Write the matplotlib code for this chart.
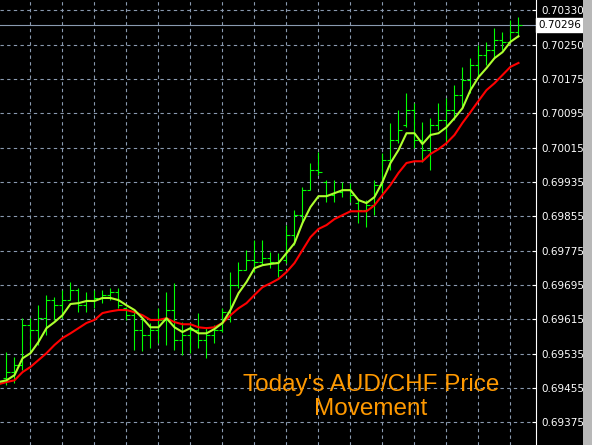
import numpy as np
import matplotlib
matplotlib.use('Agg')
import matplotlib.pyplot as plt
from matplotlib.patches import Rectangle

# OHLC of the bars on screen (AUD/CHF)
opens = [0.69477, 0.69491, 0.69507, 0.69600, 0.69588, 0.69616, 0.69658, 0.69646, 0.69658, 0.69681,
         0.69646, 0.69658, 0.69663, 0.69670, 0.69677, 0.69639, 0.69623, 0.69588, 0.69577, 0.69588,
         0.69612, 0.69635, 0.69565, 0.69577, 0.69588, 0.69565, 0.69577, 0.69588, 0.69630, 0.69693,
         0.69728, 0.69751, 0.69746, 0.69755, 0.69746, 0.69751, 0.69809, 0.69855, 0.69913, 0.69960,
         0.69932, 0.69902, 0.69909, 0.69913, 0.69883, 0.69867, 0.69878, 0.69925, 0.69983, 0.70029,
         0.70064, 0.70099, 0.70029, 0.70006, 0.70064, 0.70076, 0.70099, 0.70134, 0.70168, 0.70203,
         0.70226, 0.70238, 0.70261, 0.70257, 0.70280]
highs = [0.69537, 0.69526, 0.69616, 0.69616, 0.69646, 0.69670, 0.69665, 0.69681, 0.69700, 0.69686,
         0.69677, 0.69681, 0.69681, 0.69686, 0.69686, 0.69642, 0.69630, 0.69619, 0.69605, 0.69639,
         0.69677, 0.69697, 0.69607, 0.69600, 0.69628, 0.69595, 0.69600, 0.69639, 0.69723, 0.69746,
         0.69774, 0.69797, 0.69797, 0.69769, 0.69767, 0.69832, 0.69867, 0.69920, 0.69976, 0.70001,
         0.69936, 0.69936, 0.69932, 0.69929, 0.69890, 0.69890, 0.69936, 0.69999, 0.70069, 0.70099,
         0.70138, 0.70115, 0.70071, 0.70080, 0.70115, 0.70127, 0.70157, 0.70199, 0.70219, 0.70250,
         0.70257, 0.70289, 0.70280, 0.70308, 0.70315]
lows = [0.69461, 0.69465, 0.69496, 0.69542, 0.69554, 0.69577, 0.69612, 0.69616, 0.69658, 0.69630,
        0.69630, 0.69639, 0.69651, 0.69658, 0.69639, 0.69612, 0.69542, 0.69540, 0.69547, 0.69558,
        0.69554, 0.69542, 0.69530, 0.69535, 0.69547, 0.69523, 0.69558, 0.69584, 0.69607, 0.69686,
        0.69728, 0.69723, 0.69739, 0.69732, 0.69711, 0.69744, 0.69786, 0.69837, 0.69913, 0.69948,
        0.69885, 0.69885, 0.69897, 0.69885, 0.69837, 0.69827, 0.69855, 0.69906, 0.69960, 0.70022,
        0.70059, 0.70011, 0.69978, 0.69960, 0.70052, 0.70025, 0.70076, 0.70103, 0.70138, 0.70175,
        0.70203, 0.70219, 0.70238, 0.70254, 0.70268]
closes = [0.69491, 0.69507, 0.69600, 0.69588, 0.69616, 0.69658, 0.69646, 0.69658, 0.69681, 0.69646,
          0.69658, 0.69663, 0.69670, 0.69677, 0.69646, 0.69623, 0.69588, 0.69577, 0.69588, 0.69612,
          0.69635, 0.69565, 0.69577, 0.69588, 0.69565, 0.69577, 0.69588, 0.69630, 0.69693, 0.69728,
          0.69751, 0.69746, 0.69755, 0.69746, 0.69728, 0.69809, 0.69855, 0.69913, 0.69960, 0.69955,
          0.69902, 0.69909, 0.69913, 0.69902, 0.69867, 0.69878, 0.69925, 0.69983, 0.70029, 0.70052,
          0.70099, 0.70029, 0.70006, 0.70064, 0.70076, 0.70099, 0.70134, 0.70168, 0.70203, 0.70226,
          0.70238, 0.70261, 0.70257, 0.70280, 0.70296]

# moving averages, first value belongs to the bar just left of the screen
ma_fast = [0.69468, 0.69472, 0.69484, 0.69523, 0.69535, 0.69561, 0.69593, 0.69607, 0.69623, 0.69649,
           0.69651, 0.69656, 0.69656, 0.69663, 0.69663, 0.69658, 0.69646, 0.69635, 0.69616, 0.69595,
           0.69595, 0.69616, 0.69595, 0.69584, 0.69593, 0.69581, 0.69581, 0.69591, 0.69605, 0.69635,
           0.69674, 0.69700, 0.69732, 0.69739, 0.69742, 0.69744, 0.69767, 0.69790, 0.69837, 0.69874,
           0.69899, 0.69899, 0.69906, 0.69913, 0.69913, 0.69890, 0.69883, 0.69897, 0.69932, 0.69976,
           0.70006, 0.70045, 0.70045, 0.70020, 0.70041, 0.70045, 0.70059, 0.70080, 0.70103, 0.70145,
           0.70175, 0.70196, 0.70219, 0.70233, 0.70257, 0.70270]
ma_slow = [0.69463, 0.69468, 0.69472, 0.69491, 0.69503, 0.69519, 0.69535, 0.69554, 0.69570, 0.69581,
           0.69593, 0.69605, 0.69612, 0.69628, 0.69632, 0.69635, 0.69635, 0.69630, 0.69623, 0.69612,
           0.69612, 0.69616, 0.69607, 0.69602, 0.69602, 0.69595, 0.69593, 0.69595, 0.69605, 0.69623,
           0.69639, 0.69651, 0.69670, 0.69688, 0.69697, 0.69707, 0.69723, 0.69744, 0.69774, 0.69804,
           0.69823, 0.69832, 0.69846, 0.69855, 0.69864, 0.69864, 0.69864, 0.69878, 0.69902, 0.69925,
           0.69953, 0.69976, 0.69980, 0.69980, 0.69997, 0.70008, 0.70022, 0.70041, 0.70069, 0.70094,
           0.70120, 0.70145, 0.70161, 0.70180, 0.70199, 0.70208]

price_labels = ['0.69375', '0.69455', '0.69535', '0.69615', '0.69695', '0.69775', '0.69855',
                '0.69935', '0.70015', '0.70095', '0.70175', '0.70250', '0.70330']
current_price = 0.70296

bars = np.arange(len(closes))
ma_x = np.arange(-1, len(closes))

fig = plt.figure(figsize=(5.92, 4.45), dpi=100, facecolor='black')
ax = fig.add_axes([0, 0, 536 / 592, 1])
ax.set_facecolor('black')

# bars: high-low line, open tick left, close tick right
bar_col = '#00ff00'
ax.vlines(bars, lows, highs, color=bar_col, lw=0.8, zorder=3)
ax.hlines(opens, bars - 0.4, bars, color=bar_col, lw=0.8, zorder=3)
ax.hlines(closes, bars, bars + 0.4, color=bar_col, lw=0.8, zorder=3)

ax.plot(ma_x, ma_slow, color='#ff0000', lw=1.5, zorder=4)
ax.plot(ma_x, ma_fast, color='#adff2f', lw=1.5, zorder=5)

ax.axhline(current_price, color='#8a9ab0', lw=0.8, zorder=2)

ax.set_xlim(-0.8125, 66.19)
ax.set_ylim(0.69322, 0.70354)

ax.set_xticks(np.arange(3, 66, 4))
ax.set_yticks(np.linspace(0.69375, 0.70330, len(price_labels)))
ax.set_yticklabels(price_labels)
ax.yaxis.tick_right()
ax.tick_params(axis='x', length=0, labelbottom=False)
ax.tick_params(axis='y', colors='white', direction='in', length=3, width=0.8,
               labelsize=7.5, pad=4)
ax.grid(True, color='#8a9ab0', lw=0.8, linestyle=(0, (3, 3)), zorder=1)

for s in ['top', 'left', 'bottom']:
    ax.spines[s].set_visible(False)
ax.spines['right'].set_color('white')
ax.spines['right'].set_linewidth(0.8)

ax.text(1.004, current_price, '%.5f' % current_price, transform=ax.get_yaxis_transform(),
        color='black', fontsize=7.5, va='center', ha='left',
        bbox=dict(boxstyle='square,pad=0.2', facecolor='white', edgecolor='white'))

fig.patches.append(Rectangle((583 / 592, 0), 9 / 592, 1, transform=fig.transFigure,
                             facecolor='#b8b8b8', edgecolor='none'))

fig.text(371 / 592, 1 - 397 / 445, "Today's AUD/CHF Price\nMovement", color='#ff9900',
         fontsize=17.5, family='Liberation Sans', ha='center', va='center', linespacing=1.1)

fig.savefig('out.png', dpi=100, facecolor='black')
